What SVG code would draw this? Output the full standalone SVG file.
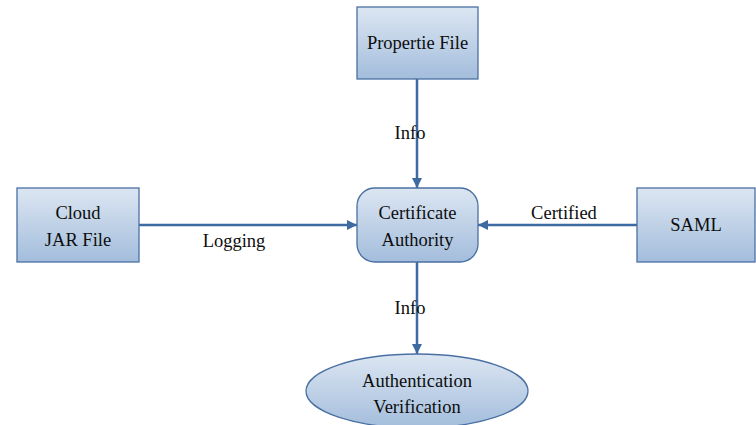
<svg xmlns="http://www.w3.org/2000/svg" width="756" height="425" viewBox="0 0 756 425">
  <defs>
    <linearGradient id="fillGrad" x1="0" y1="0" x2="0" y2="1">
      <stop offset="0" stop-color="#dce6f2"/>
      <stop offset="1" stop-color="#a3bddc"/>
    </linearGradient>
    <marker id="arrow" viewBox="0 0 10 10" refX="10" refY="5" markerWidth="4" markerHeight="5" orient="auto" markerUnits="strokeWidth">
      <path d="M0,0 L10,5 L0,10 z" fill="#3d6aa1"/>
    </marker>
    <style>
      .node { fill: url(#fillGrad); stroke: #4a70a3; stroke-width: 1.3; }
      .edge { stroke: #3d6aa1; stroke-width: 2.5; fill: none; marker-end: url(#arrow); }
      .lbl { font-family: 'Liberation Serif', 'Times New Roman', serif; font-size: 18.5px; fill: #0d0d0d; text-anchor: middle; }
    </style>
  </defs>
  <rect width="756" height="425" fill="#ffffff"/>

  <g id="connectors">
    <line class="edge" x1="417" y1="79" x2="417" y2="188"/>
    <line class="edge" x1="139" y1="225" x2="357" y2="225"/>
    <line class="edge" x1="637" y1="225" x2="478" y2="225"/>
    <line class="edge" x1="417" y1="262" x2="417" y2="354"/>
    <text class="lbl" x="410" y="139">Info</text>
    <text class="lbl" x="234" y="247">Logging</text>
    <text class="lbl" x="564" y="219">Certified</text>
    <text class="lbl" x="410" y="314">Info</text>
  </g>

  <g id="propertie-file">
    <rect class="node" x="357" y="7" width="121" height="72"/>
    <text class="lbl" x="417.5" y="49">Propertie File</text>
  </g>

  <g id="cloud-jar-file">
    <rect class="node" x="17" y="188" width="122" height="74"/>
    <text class="lbl" x="78" y="219">Cloud</text>
    <text class="lbl" x="78" y="246">JAR File</text>
  </g>

  <g id="certificate-authority">
    <rect class="node" x="357" y="188" width="121" height="74" rx="18" ry="18"/>
    <text class="lbl" x="417.5" y="219">Certificate</text>
    <text class="lbl" x="417.5" y="246">Authority</text>
  </g>

  <g id="saml">
    <rect class="node" x="637" y="188" width="118" height="74"/>
    <text class="lbl" x="696" y="231">SAML</text>
  </g>

  <g id="authentication-verification">
    <ellipse class="node" cx="417" cy="391" rx="111" ry="37"/>
    <text class="lbl" x="417" y="387">Authentication</text>
    <text class="lbl" x="417" y="413">Verification</text>
  </g>
</svg>
